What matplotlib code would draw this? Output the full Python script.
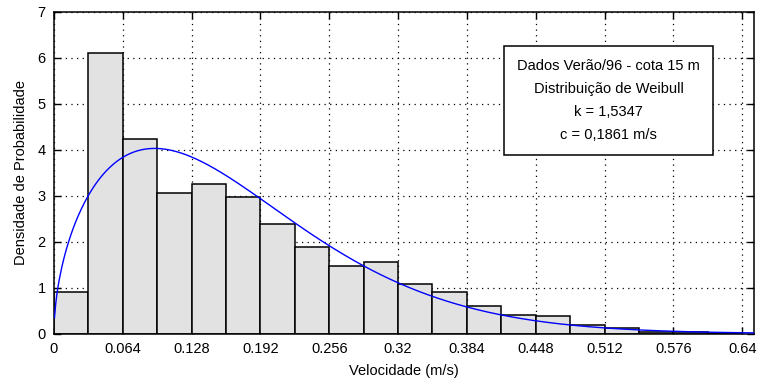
import numpy as np
import matplotlib.pyplot as plt

plt.rcParams['font.family'] = ['Liberation Sans', 'DejaVu Sans']

# histogram of the wind speed data (bins of 0.032 m/s)
bin_width = 0.032
bin_left = np.arange(20) * bin_width
density = [0.91, 6.11, 4.23, 3.07, 3.26, 2.97, 2.38, 1.88, 1.47, 1.57,
           1.09, 0.91, 0.60, 0.41, 0.38, 0.18, 0.12, 0.04, 0.04, 0.01]

# fitted Weibull parameters
k = 1.5347
c = 0.1861

xticks = [0, 0.064, 0.128, 0.192, 0.256, 0.32, 0.384, 0.448, 0.512, 0.576, 0.64]
xticklabels = ['0', '0.064', '0.128', '0.192', '0.256', '0.32', '0.384',
               '0.448', '0.512', '0.576', '0.64']
yticks = [0, 1, 2, 3, 4, 5, 6, 7]

fig = plt.figure(figsize=(7.57, 3.85), dpi=100)
ax = fig.add_axes([0.0713, 0.1333, 0.9247, 0.8356])

ax.bar(bin_left, density, width=bin_width, align='edge',
       facecolor='#e2e2e2', edgecolor='black', linewidth=1.1, zorder=2)

x = np.linspace(0.0005, 0.651, 600)
pdf = (k / c) * (x / c) ** (k - 1) * np.exp(-(x / c) ** k)
ax.plot(x, pdf, color='#0000ff', linewidth=1.0, zorder=3)

ax.set_xlim(0, 0.651)
ax.set_ylim(0, 7)
ax.set_xticks(xticks)
ax.set_xticklabels(xticklabels)
ax.set_yticks(yticks)
ax.tick_params(direction='in', length=5, width=1, top=True, right=True,
               labelsize=10.5, pad=6)
ax.grid(True, color='black', linestyle=(0, (1, 3.5)), linewidth=0.9, zorder=1)
ax.set_axisbelow(True)
for s in ax.spines.values():
    s.set_linewidth(1.1)

ax.set_xlabel('Velocidade (m/s)', fontsize=10.5, labelpad=6)
ax.set_ylabel('Densidade de Probabilidade', fontsize=10.5, labelpad=7)

info = ('Dados Verão/96 - cota 15 m\nDistribuição de Weibull\n'
        'k = 1,5347\nc = 0,1861 m/s')
ax.text(0.516, 5.07, info, ha='center', va='center', fontsize=10.5,
        linespacing=1.8, zorder=5,
        bbox=dict(boxstyle='square,pad=0.9', facecolor='white',
                  edgecolor='black', linewidth=1.1))

fig.savefig('out.png', dpi=100)
